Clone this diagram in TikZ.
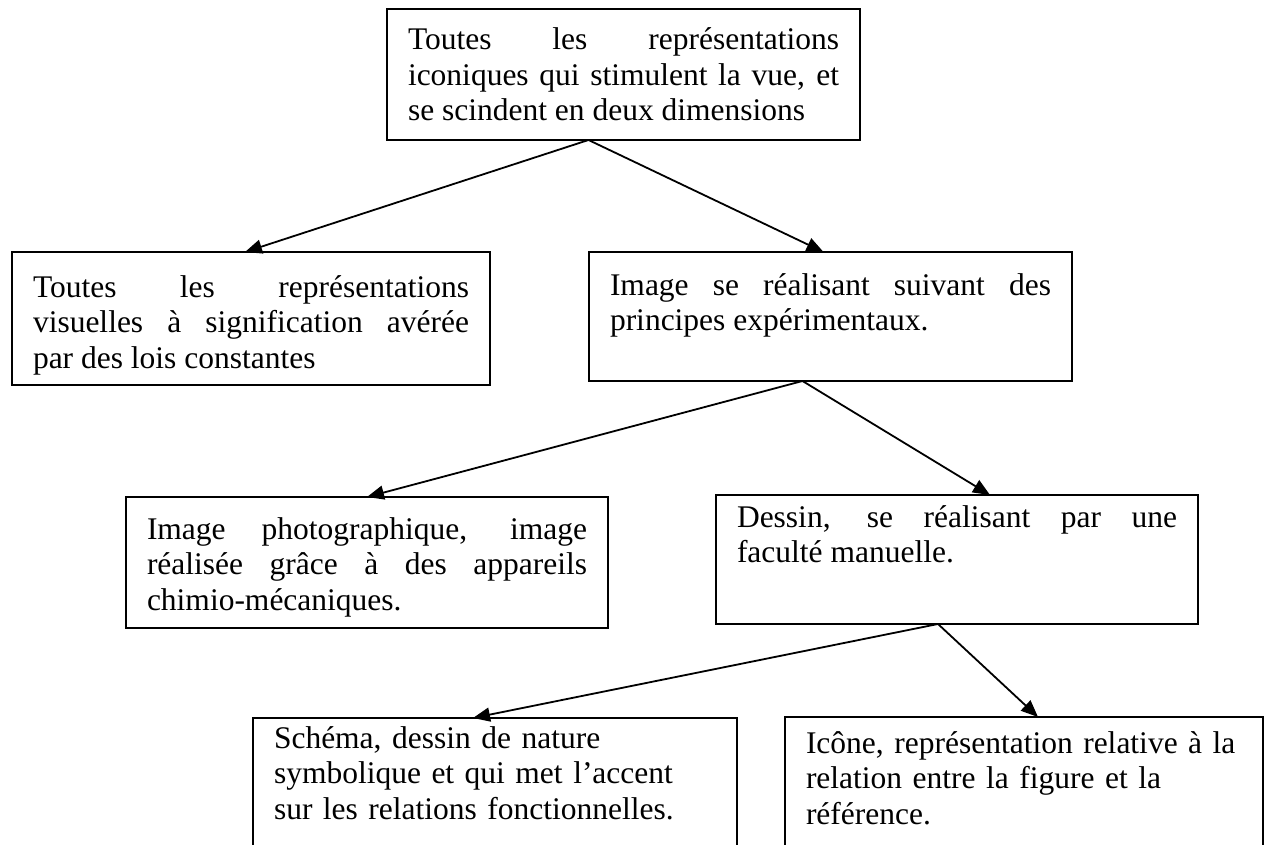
\documentclass[tikz,border=0pt]{standalone}
\usepackage{fontspec}
\setmainfont{Liberation Serif}
\usepackage{tikz}
\usetikzlibrary{arrows.meta}
\hyphenpenalty=10000
\exhyphenpenalty=10000
\hbadness=10000

\begin{document}
\begin{tikzpicture}[x=1pt, y=-1pt,
    cadre/.style={draw, line width=1.8pt, anchor=north west, outer sep=0pt,
        inner xsep=21pt, inner ysep=0pt, align=justify,
        font=\fontsize{31.5}{35.5}\selectfont},
    fleche/.style={line width=1.8pt, -{Triangle[length=17pt, width=14pt]}}]
        \useasboundingbox (0,0) rectangle (1272,845);
        \node[cadre, text width=431pt, text height=41pt, text depth=90pt] (vue) at (387,9)
            {Toutes les représentations\linebreak iconiques qui stimulent la vue, et\linebreak se scindent en deux dimensions};
        \node[cadre, text width=436pt, text height=45pt, text depth=88pt] (lois) at (12,252)
            {Toutes les représentations\linebreak visuelles à signification avérée\linebreak par des lois constantes};
        \node[cadre, text width=441pt, text height=43pt, text depth=86pt] (exper) at (589,252)
            {Image se réalisant suivant des\linebreak principes expérimentaux.};
        \node[cadre, text width=440pt, text height=42pt, text depth=89pt] (photo) at (126,497)
            {Image photographique, image\linebreak réalisée grâce à des appareils\linebreak chimio-mécaniques.};
        \node[cadre, text width=440pt, text height=32pt, text depth=97pt] (dessin) at (716,495)
            {Dessin, se réalisant par une\linebreak faculté manuelle.};
        \node[cadre, align=left, text width=442pt, text height=30pt, text depth=120pt] (schema) at (253,718)
            {Schéma, dessin de nature\\ symbolique et qui met l’accent\\ sur les relations fonctionnelles.};
        \node[cadre, align=left, text width=436pt, text height=36pt, text depth=120pt] (icone) at (785,717)
            {Icône, représentation relative à la\\ relation entre la figure et la\\ référence.};
        \draw[fleche] ([xshift=-35pt]vue.south) -- ([xshift=-6pt]lois.north);
        \draw[fleche] ([xshift=-35pt]vue.south) -- ([xshift=-7pt]exper.north);
        \draw[fleche] ([xshift=-28pt]exper.south) -- (photo.north);
        \draw[fleche] ([xshift=-28pt]exper.south) -- ([xshift=33pt]dessin.north);
        \draw[fleche] ([xshift=-19pt]dessin.south) -- ([xshift=-22pt]schema.north);
        \draw[fleche] ([xshift=-19pt]dessin.south) -- ([xshift=14pt]icone.north);
    \end{tikzpicture}
\end{document}
